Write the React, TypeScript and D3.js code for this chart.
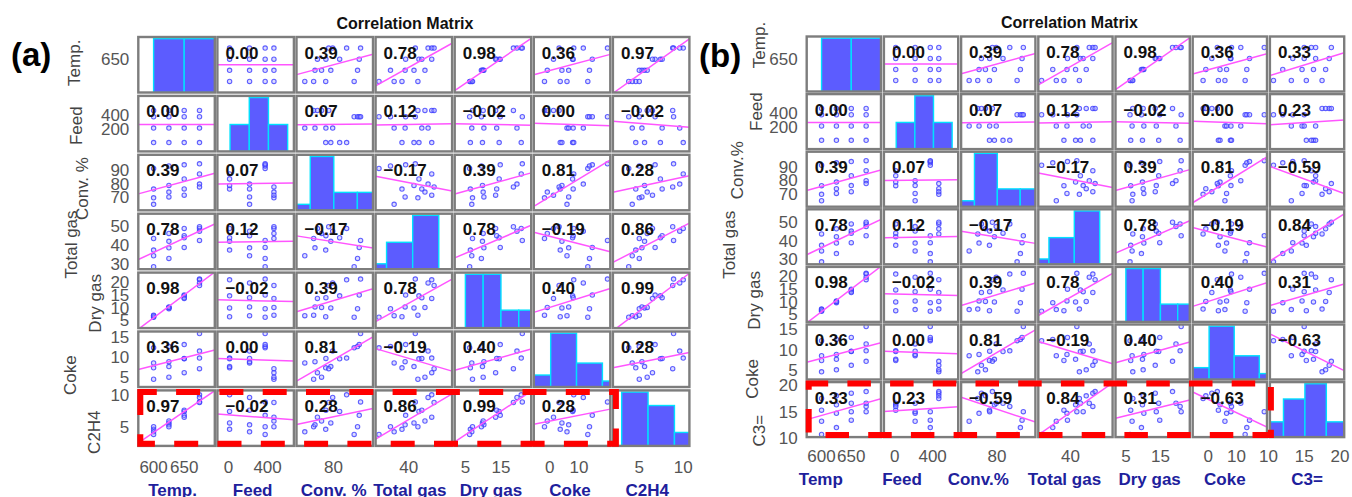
import React from "react";
import * as d3 from "d3";

// 16 runs: 4 temperatures x 4 feed levels, temperature-major order
const temp = [600, 600, 600, 600, 625, 625, 625, 625, 650, 650, 650, 650, 675, 675, 675, 675];
const feed = [10, 215, 375, 465, 10, 215, 375, 465, 10, 215, 375, 465, 10, 215, 375, 465];
const conv = [75.9, 64.8, 91.0, 69.5, 78.6, 70.2, 92.8, 73.7, 83.3, 76.0, 93.7, 71.5, 87.0, 79.6, 94.4, 77.5];
const totalGas = [37.4, 34.4, 28.6, 43.5, 42.0, 38.6, 33.0, 46.2, 43.9, 45.0, 38.8, 48.8, 48.8, 47.4, 42.5, 49.7];
const dryGas = [6.4, 6.8, 6.2, 7.0, 9.8, 10.2, 9.5, 10.0, 14.5, 13.8, 14.8, 13.5, 20.7, 19.5, 21.0, 18.5];
const coke = [7.3, 8.5, 12.2, 4.5, 7.6, 8.8, 12.5, 5.0, 9.5, 9.6, 13.0, 6.1, 9.7, 11.4, 15.7, 7.1];
const c2h4 = [4.6, 4.2, 3.8, 5.0, 5.6, 5.3, 5.0, 5.9, 7.4, 7.6, 6.8, 6.5, 10.0, 9.6, 8.9, 8.8];
const c3 = [15.3, 13.2, 10.7, 17.5, 16.3, 14.7, 12.0, 18.0, 16.6, 15.0, 13.4, 18.5, 16.0, 16.6, 15.0, 18.8];

const tempBins = [600, 650, 700];
const tempCounts = [8, 8];
const feedBins = [15, 212, 409, 606];
const feedCounts = [4, 8, 4];
const convBins = [55.2, 67.7, 80.2, 92.7, 105.2];
const convCounts = [1, 9, 3, 3];
const totalGasBins = [21.5, 31.5, 41.5, 51.5];
const totalGasCounts = [1, 5, 10];
const dryGasBins = [5, 10, 15, 20, 25];
const dryGasCounts = [6, 6, 2, 2];
const cokeBins = [1.0, 5.6, 10.2, 14.8, 19.4];
const cokeCounts = [2, 9, 4, 1];
const c2h4Bins = [3, 6, 9, 12];
const c2h4Counts = [8, 6, 2];
const c3Bins = [9.1, 12.1, 15.1, 18.1, 21.1];
const c3Counts = [2, 5, 7, 2];

// tick labels
const tempYTicks = [650];
const feedYTicks = [200, 400];
const convYTicks = [70, 80, 90];
const totalGasYTicks = [30, 40, 50];
const dryGasYTicks = [5, 10, 15, 20];
const cokeYTicks = [5, 10, 15];
const c2h4YTicks = [5, 10];
const c3YTicks = [10, 15, 20];

const tempXTicks = [600, 650];
const feedXTicks = [0, 400];
const convXTicks = [80];
const totalGasXTicks = [40];
const dryGasXTicks = [5, 15];
const cokeXTicks = [0, 10];
const c2h4XTicks = [5, 10];
const c3XTicks = [10, 15, 20];

// correlation coefficients printed in the cells
const corrA = [
  [null, 0.0, 0.39, 0.78, 0.98, 0.36, 0.97],
  [0.0, null, 0.07, 0.12, -0.02, 0.0, -0.02],
  [0.39, 0.07, null, -0.17, 0.39, 0.81, 0.28],
  [0.78, 0.12, -0.17, null, 0.78, -0.19, 0.86],
  [0.98, -0.02, 0.39, 0.78, null, 0.4, 0.99],
  [0.36, 0.0, 0.81, -0.19, 0.4, null, 0.28],
  [0.97, -0.02, 0.28, 0.86, 0.99, 0.28, null],
];
const corrB = [
  [null, 0.0, 0.39, 0.78, 0.98, 0.36, 0.33],
  [0.0, null, 0.07, 0.12, -0.02, 0.0, 0.23],
  [0.39, 0.07, null, -0.17, 0.39, 0.81, -0.59],
  [0.78, 0.12, -0.17, null, 0.78, -0.19, 0.84],
  [0.98, -0.02, 0.39, 0.78, null, 0.4, 0.31],
  [0.36, 0.0, 0.81, -0.19, 0.4, null, -0.63],
  [0.33, 0.23, -0.59, 0.84, 0.31, -0.63, null],
];

const labelsA = ["Temp.", "Feed", "Conv. %", "Total gas", "Dry gas", "Coke", "C2H4"];
const labelsB = ["Temp.", "Feed", "Conv.%", "Total gas", "Dry gas", "Coke", "C3="];
const bottomA = ["Temp.", "Feed", "Conv. %", "Total gas", "Dry gas", "Coke", "C2H4"];
const bottomB = ["Temp", "Feed", "Conv.%", "Total gas", "Dry gas", "Coke", "C3="];

const VARS: any = {
  temp: { v: temp, lim: [575, 700], bins: tempBins, counts: tempCounts, yt: tempYTicks, xt: tempXTicks },
  feed: { v: feed, lim: [-115, 670], bins: feedBins, counts: feedCounts, yt: feedYTicks, xt: feedXTicks },
  conv: { v: conv, lim: [60.4, 101], bins: convBins, counts: convCounts, yt: convYTicks, xt: convXTicks },
  totalGas: { v: totalGas, lim: [27.3, 56.6], bins: totalGasBins, counts: totalGasCounts, yt: totalGasYTicks, xt: totalGasXTicks },
  dryGas: { v: dryGas, lim: [2, 23.5], bins: dryGasBins, counts: dryGasCounts, yt: dryGasYTicks, xt: dryGasXTicks },
  coke: { v: coke, lim: [2.6, 16.2], axisLim: [-5.5, 20.8], bins: cokeBins, counts: cokeCounts, yt: cokeYTicks, xt: cokeXTicks },
  c2h4: { v: c2h4, lim: [2.0, 10.7], bins: c2h4Bins, counts: c2h4Counts, yt: c2h4YTicks, xt: c2h4XTicks },
  c3: { v: c3, lim: [10.2, 20.6], bins: c3Bins, counts: c3Counts, yt: c3YTicks, xt: c3XTicks },
};

const FONT = "Liberation Sans, Arial, Helvetica, sans-serif";

const panels = [
  {
    id: "a", tag: "(a)", tagX: 11, tagY: 66, titleX: 405, titleY: 29,
    vars: ["temp", "feed", "conv", "totalGas", "dryGas", "coke", "c2h4"],
    labels: labelsA, bottom: bottomA, corr: corrA,
    x0: 138.3, colStep: 79.1, cw: 76.5, y0: 37, rowStep: 58.9, ch: 55.5,
    labelX: [80, 82, 88, 77, 101, 76, 100], labelDy: [-2, 2, 6, 3, 3, 16, 14],
    bottomDx: [-4, -3, -1, -4, -2, -2, -4],
    tickY: 473, nameY: 496, boxRight: 3, dash: "24 19.3", dashOff: 7.5,
  },
  {
    id: "b", tag: "(b)", tagX: 699, tagY: 67, titleX: 1069.5, titleY: 28,
    vars: ["temp", "feed", "conv", "totalGas", "dryGas", "coke", "c3"],
    labels: labelsB, bottom: bottomB, corr: corrB,
    x0: 806.7, colStep: 77.2, cw: 74.3, y0: 36.5, rowStep: 57.6, ch: 55,
    labelX: [765, 762, 743, 735, 760, 758, 765], labelDy: [-19, -10, -9, 8, 6, 27, 21],
    bottomDx: [-23, -19, -20, -11, -3, -5, 0],
    tickY: 461.5, nameY: 484.5, boxRight: 1, dash: "23.5 19.2", dashOff: 4,
  },
];

function Panel({ p }: { p: any }) {
  const n = p.vars.length;
  const colX = (j: number) => p.x0 + j * p.colStep;
  const rowY = (i: number) => p.y0 + i * p.rowStep;
  const xs = p.vars.map((k: string, j: number) =>
    d3.scaleLinear().domain(VARS[k].lim).range([colX(j), colX(j) + p.cw])
  );
  const ys = p.vars.map((k: string, i: number) =>
    d3.scaleLinear().domain(VARS[k].lim).range([rowY(i) + p.ch, rowY(i)])
  );
  const fmt = d3.format(".2f");
  const cells: any[] = [];

  for (let i = 0; i < n; i++) {
    for (let j = 0; j < n; j++) {
      const cx = colX(j), cy = rowY(i);
      const clipId = `clip-${p.id}-${i}-${j}`;
      const xv = VARS[p.vars[j]], yv = VARS[p.vars[i]];
      let body: any;
      if (i === j) {
        const cnt = d3.scaleLinear().domain([0, d3.max(xv.counts as number[])! / 0.97]).range([cy + p.ch, cy]);
        body = xv.counts.map((c: number, b: number) => (
          <rect key={b} x={xs[j](xv.bins[b])} y={cnt(c)}
            width={xs[j](xv.bins[b + 1]) - xs[j](xv.bins[b])} height={cy + p.ch - cnt(c)}
            fill="#5c5cff" stroke="#00e1ff" strokeWidth={1.4} />
        ));
      } else {
        const X: number[] = xv.v, Y: number[] = yv.v;
        const mx = d3.mean(X)!, my = d3.mean(Y)!;
        const sxy = d3.sum(X, (x, k) => (x - mx) * (Y[k] - my));
        const sxx = d3.sum(X, (x) => (x - mx) ** 2);
        const slope = sxy / sxx, icpt = my - slope * mx;
        const [lo, hi] = xv.lim;
        const line = d3.line<number>().x((x) => xs[j](x)).y((x) => ys[i](icpt + slope * x));
        body = (
          <>
            {X.map((x, k) => (
              <circle key={k} cx={xs[j](x)} cy={ys[i](Y[k])} r={2.2} fill="#9a9aff" fillOpacity={0.35}
                stroke="#3c3cff" strokeOpacity={0.8} strokeWidth={1.1} />
            ))}
            <path d={line([lo, hi])!} stroke="#ff55ff" strokeWidth={1.5} fill="none" />
            <text x={cx + 8} y={cy + 21.5} fontFamily={FONT} fontWeight="bold" fontSize={17} fill="#111">
              {fmt(p.corr[i][j])}
            </text>
          </>
        );
      }
      cells.push(
        <g key={`${i}-${j}`}>
          <clipPath id={clipId}><rect x={cx} y={cy} width={p.cw} height={p.ch} /></clipPath>
          <rect x={cx} y={cy} width={p.cw} height={p.ch} fill="#fff" />
          <g clipPath={`url(#${clipId})`}>{body}</g>
          <rect x={cx} y={cy} width={p.cw} height={p.ch} fill="none" stroke="#7d7d7d" strokeWidth={2.4} />
        </g>
      );
    }
  }

  const last = n - 1;
  const boxX1 = colX(0) + 2, boxX2 = colX(last) + p.boxRight;
  const boxY1 = rowY(last) + 1.5, boxY2 = rowY(last) + p.ch - 2.2;

  return (
    <g>
      <text x={p.tagX} y={p.tagY} fontFamily={FONT} fontWeight="bold" fontSize={33} fill="#000">{p.tag}</text>
      <text x={p.titleX} y={p.titleY} textAnchor="middle" fontFamily={FONT} fontWeight="bold" fontSize={16} fill="#111">
        Correlation Matrix
      </text>
      {cells}
      {/* left tick labels and row names */}
      {p.vars.map((k: string, i: number) => (
        <g key={`y-${k}`}>
          {VARS[k].yt.map((t: number) => (
            <text key={t} x={p.x0 - 9} y={ys[i](t)} dy="0.36em" textAnchor="end" fontFamily={FONT} fontSize={17} fill="#555">
              {t}
            </text>
          ))}
          <text transform={`translate(${p.labelX[i]},${rowY(i) + p.ch / 2 + p.labelDy[i]}) rotate(-90)`}
            textAnchor="middle" fontFamily={FONT} fontSize={17} fill="#444">
            {p.labels[i]}
          </text>
        </g>
      ))}
      {/* bottom tick labels and column names */}
      {p.vars.map((k: string, j: number) => {
        const ax = d3.scaleLinear().domain(VARS[k].axisLim ?? VARS[k].lim).range([colX(j), colX(j) + p.cw]);
        return (
          <g key={`x-${k}`}>
            {VARS[k].xt.map((t: number) => (
              <text key={t} x={ax(t)} y={p.tickY} textAnchor="middle" fontFamily={FONT} fontSize={17} fill="#555">
                {t}
              </text>
            ))}
            <text x={colX(j) + p.cw / 2 + p.bottomDx[j]} y={p.nameY} textAnchor="middle" fontFamily={FONT}
              fontWeight="bold" fontSize={17} fill="#20209c">
              {p.bottom[j]}
            </text>
          </g>
        );
      })}
      <rect x={boxX1} y={boxY1} width={boxX2 - boxX1} height={boxY2 - boxY1} fill="none" stroke="#ff0000"
        strokeWidth={6} strokeDasharray={p.dash} strokeDashoffset={p.dashOff} />
    </g>
  );
}

export default function App() {
  return (
    <svg width={1352} height={497} style={{ position: "absolute", left: 0, top: 0, background: "#fff" }}>
      <rect width={1352} height={497} fill="#fff" />
      {panels.map((p) => (
        <Panel key={p.id} p={p} />
      ))}
    </svg>
  );
}
